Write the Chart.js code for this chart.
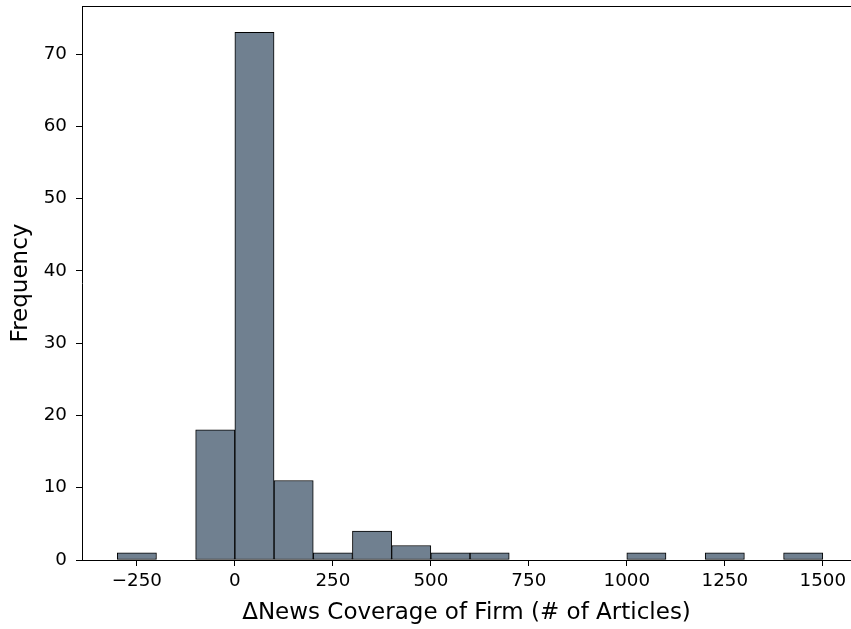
<!DOCTYPE html>
<html>
<head>
<meta charset="utf-8">
<script src="https://cdn.jsdelivr.net/npm/chart.js@4/dist/chart.umd.min.js"></script>
<style>
  html, body { margin: 0; padding: 0; background: #fff; overflow: hidden; }
  #c { display: block; }
</style>
</head>
<body>
<canvas id="c" width="851" height="629"></canvas>
<script>
// Histogram bins (left edges, width 100) and counts
const binLeftEdges = [-300, -200, -100, 0, 100, 200, 300, 400, 500, 600, 700, 800, 900, 1000, 1100, 1200, 1300, 1400];
const frequencies  = [1, 0, 18, 73, 11, 1, 4, 2, 1, 1, 0, 0, 0, 1, 0, 1, 0, 1];
const binWidth = 100;
const xTickValues = [-250, 0, 250, 500, 750, 1000, 1250, 1500];
const yTickValues = [0, 10, 20, 30, 40, 50, 60, 70];
const xTitle = '\u0394News Coverage of Firm (# of Articles)';
const yTitle = 'Frequency';

const points = binLeftEdges.map((e, i) => ({ x: e + binWidth / 2, y: frequencies[i] }));

const FONT = 'DejaVu Sans';

const topSpine = {
  id: 'topSpine',
  afterDraw(chart) {
    const { ctx, chartArea } = chart;
    ctx.save();
    ctx.strokeStyle = '#000';
    ctx.lineWidth = 1;
    ctx.beginPath();
    const y = Math.round(chartArea.top) + 0.5;
    ctx.moveTo(chartArea.left, y);
    ctx.lineTo(chartArea.right + 1, y);
    ctx.stroke();
    ctx.restore();
  }
};

new Chart(document.getElementById('c'), {
  type: 'bar',
  data: {
    datasets: [{
      data: points,
      backgroundColor: '#708090',
      borderColor: '#000000',
      borderWidth: 1,
      borderSkipped: false,
      barPercentage: 1.0,
      categoryPercentage: 1.0
    }]
  },
  options: {
    responsive: false,
    animation: false,
    devicePixelRatio: 1,
    layout: { padding: { left: 0, right: 0, top: 6, bottom: 0 } },
    plugins: { legend: { display: false }, tooltip: { enabled: false } },
    scales: {
      x: {
        type: 'linear',
        min: -390,
        max: 1572,
        offset: false,
        afterBuildTicks(scale) { scale.ticks = xTickValues.map(v => ({ value: v })); },
        afterFit(scale) { scale.height = 69; scale.paddingLeft = 0; scale.paddingRight = 0; },
        grid: { display: true, offset: false, drawOnChartArea: false, drawTicks: true, tickLength: 6, color: '#000', lineWidth: 1 },
        border: { display: true, color: '#000', width: 1 },
        ticks: {
          autoSkip: false, maxRotation: 0, padding: 4, color: '#000',
          font: { family: FONT, size: 18.3 },
          callback: v => (v < 0 ? '\u2212' + Math.abs(v) : String(v))
        },
        title: { display: true, text: xTitle, color: '#000', font: { family: FONT, size: 23 }, padding: { top: 0, bottom: 2 } }
      },
      y: {
        type: 'linear',
        min: 0,
        max: 76.65,
        afterBuildTicks(scale) { scale.ticks = yTickValues.map(v => ({ value: v })); },
        afterFit(scale) { scale.width = 82; scale.paddingTop = 0; scale.paddingBottom = 0; },
        grid: { display: true, offset: false, drawOnChartArea: false, drawTicks: true, tickLength: 6, color: '#000', lineWidth: 1 },
        border: { display: true, color: '#000', width: 1 },
        ticks: { padding: 9, color: '#000', font: { family: FONT, size: 18.3 } },
        title: { display: true, text: yTitle, color: '#000', font: { family: FONT, size: 23 }, padding: { top: 7, bottom: 0 } }
      }
    }
  },
  plugins: [topSpine]
});
</script>
</body>
</html>
